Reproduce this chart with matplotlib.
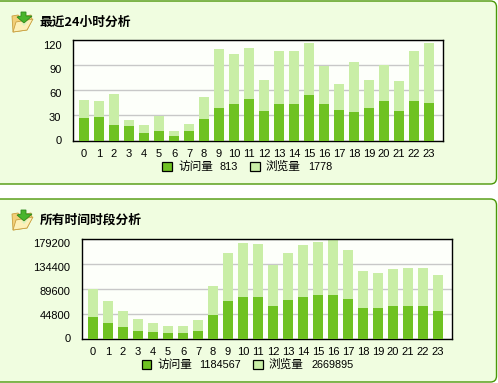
import matplotlib
matplotlib.use('Agg')
import matplotlib.pyplot as plt
from matplotlib.patches import FancyBboxPatch, Polygon, Rectangle
from matplotlib.transforms import ScaledTranslation
import numpy as np

plt.rcParams['font.family'] = ['Noto Sans CJK SC', 'DejaVu Sans']

W, H = 498, 383

hours = [str(h) for h in range(24)]

visits_24h = [27, 28, 18, 17, 9, 12, 5, 11, 26, 39, 44, 50, 35, 44, 44, 54, 44, 36, 34, 39, 47, 35, 47, 45]
views_24h = [48, 47, 56, 24, 18, 29, 11, 20, 52, 110, 104, 111, 72, 107, 107, 117, 89, 68, 94, 72, 90, 71, 107, 117]
ticks_24h = [0, 30, 60, 90, 120]

visits_all = [38200, 27500, 20300, 13100, 11300, 9600, 9600, 13100, 41800, 66900, 74100, 74100,
              57900, 68700, 74100, 77700, 77700, 70500, 54400, 54400, 57900, 57900, 57900, 49000]
views_all = [89600, 66900, 49000, 34600, 27500, 22100, 22100, 32900, 93800, 152900, 170800, 169000,
             131400, 152900, 167300, 172600, 176200, 158300, 120700, 117100, 124200, 126000, 126000, 113500]
ticks_all = [0, 44800, 89600, 134400, 179200]

title_24h = '最近24小时分析'
title_all = '所有时间时段分析'
visit_label = '访问量'
view_label = '浏览量'
total_visits = ['813', '1184567']
total_views = ['1778', '2669895']

DARK = '#6fc222'
LIGHT = '#c9eea6'
PANEL = '#f0fde0'
EDGE = '#4c9708'
NUM_FONT = 'Liberation Sans'

fig = plt.figure(figsize=(W / 100, H / 100), dpi=100, facecolor='white')
bg = fig.add_axes([0, 0, 1, 1])
bg.set_xlim(0, W)
bg.set_ylim(H, 0)
bg.axis('off')


def folder(x, y):
    # small folder icon with the green arrow
    bg.add_patch(Polygon([(x, y + 4), (x + 6, y + 3), (x + 8, y + 5), (x + 19, y + 3), (x + 20, y + 8), (x + 15, y + 18), (x + 1, y + 20)],
                         fc='#f2cf78', ec='#c9a040', lw=0.6))
    bg.add_patch(Polygon([(x + 1, y + 20), (x + 4, y + 10), (x + 21, y + 7), (x + 15, y + 18)],
                         fc='#fdf0b8', ec='#c9a040', lw=0.6))
    bg.add_patch(Polygon([(x + 9, y + 4), (x + 9, y), (x + 14, y), (x + 14, y + 4), (x + 20, y + 4), (x + 12, y + 11), (x + 5, y + 5)],
                         fc='#49b52c', ec='#2c8a1c', lw=0.6))
    bg.add_patch(Polygon([(x + 9, y + 11), (x + 12, y + 14), (x + 17, y + 9), (x + 12, y + 12)],
                         fc='#d8f2c0', ec='none'))


def panel(top, bottom, title, ax_box, vis, view, ticks, tot_vis, tot_view, leg_x, leg_x2):
    bg.add_patch(FancyBboxPatch((-3, top + 5), W - 1.5 + 3 - 5, bottom - top - 10,
                                boxstyle='round,pad=5,rounding_size=6', fc=PANEL, ec=EDGE, lw=1.0))
    folder(12, top + 11)
    bg.text(40, top + 21, title, fontsize=9.2, fontweight='bold', color='black', va='center')

    x0, x1, y0, y1 = ax_box
    ax = fig.add_axes([x0 / W, 1 - y1 / H, (x1 - x0) / W, (y1 - y0) / H], facecolor='#fdfffa')
    x = np.arange(24)
    ax.bar(x, view, width=0.667, color=LIGHT, zorder=2)
    ax.bar(x, vis, width=0.667, color=DARK, zorder=3)
    ax.set_xlim(-0.77, 23.9)
    ax.set_ylim(0, ticks[-1])
    ax.set_xticks(x)
    ax.set_xticklabels(hours, family=NUM_FONT)
    ax.set_yticks(ticks)
    ax.set_yticklabels([str(t) for t in ticks], family=NUM_FONT)
    ax.yaxis.grid(True, color='#c8c8c8', lw=1, zorder=1)
    ax.tick_params(length=0, labelsize=8, pad=6, colors='black')
    ax.tick_params(axis='y', pad=8)
    # the labels on the reference are spaced a little tighter than the gridlines
    for i, lab in enumerate(ax.get_yticklabels()):
        lab.set_transform(lab.get_transform() + ScaledTranslation(0, -1.1 * i / 100, fig.dpi_scale_trans))
    for s in ax.spines.values():
        s.set_linewidth(1)
        s.set_color('black')

    leg_y = y1 + 26
    bg.add_patch(Rectangle((leg_x, leg_y - 5), 9.5, 9.5, fc=DARK, ec='black', lw=0.9))
    bg.text(leg_x + 16, leg_y, visit_label, fontsize=8.4, va='center')
    bg.text(leg_x + 58, leg_y, tot_vis, fontsize=7.8, va='center', family=NUM_FONT)
    bg.add_patch(Rectangle((leg_x2, leg_y - 5), 9.5, 9.5, fc=LIGHT, ec='black', lw=0.9))
    bg.text(leg_x2 + 16, leg_y, view_label, fontsize=8.4, va='center')
    bg.text(leg_x2 + 58, leg_y, tot_view, fontsize=7.8, va='center', family=NUM_FONT)


panel(1, 184, title_24h, (72.5, 442.5, 40.5, 140.5), visits_24h, views_24h, ticks_24h,
      total_visits[0], total_views[0], 162, 250)
panel(199, 382, title_all, (81.5, 451.5, 238.5, 338.5), visits_all, views_all, ticks_all,
      total_visits[1], total_views[1], 141.5, 253)

fig.savefig('out.png', dpi=100, facecolor='white')
